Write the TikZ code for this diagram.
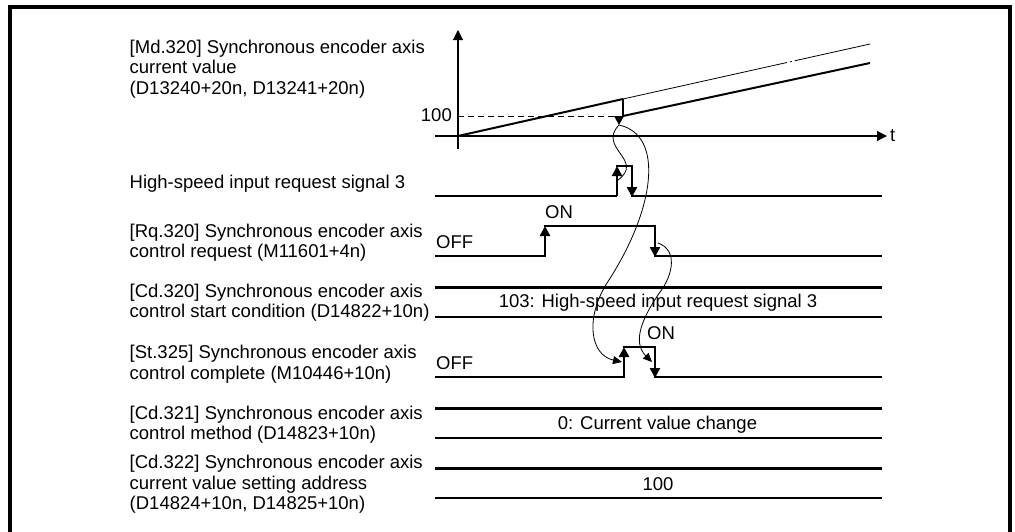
\documentclass[tikz,border=0pt]{standalone}
\usepackage{fontspec}
\setmainfont{Liberation Sans}
\usetikzlibrary{arrows.meta}
\begin{document}
\begin{tikzpicture}[x=1pt,y=-1pt,
  font=\fontsize{18.5}{20.6}\selectfont,
  lbl/.style={anchor=base west, inner sep=0pt, align=left},
  txt/.style={inner sep=0pt},
  sig/.style={line width=2.4pt},
  bus/.style={line width=2.4pt},
  axisline/.style={line width=1.1pt},
  valline/.style={line width=2pt},
  thinline/.style={line width=0.8pt},
  uparr/.style={-{Triangle[length=10pt,width=10pt]}},
  curvarr/.style={thinline,-{Triangle[length=9pt,width=8pt]}},
  frameline/.style={line width=4pt}]
\useasboundingbox (0,0) rectangle (1015,531);
% frame
\draw[frameline] (9.5,533) -- (9.5,7) -- (1010,7) -- (1010,533);

% labels (anchored at the baseline of their last line)
\node[lbl] (lmd) at (129.5,94.3) {[Md.320] Synchronous encoder axis\\current value\\(D13240+20n, D13241+20n)};
\node[lbl] (lhs) at (129.5,188.3) {High-speed input request signal 3};
\node[lbl] (lrq) at (129.5,257.9) {[Rq.320] Synchronous encoder axis\\control request (M11601+4n)};
\node[lbl] (lcd0) at (129.5,317.9) {[Cd.320] Synchronous encoder axis\\control start condition (D14822+10n)};
\node[lbl] (lst) at (129.5,379.3) {[St.325] Synchronous encoder axis\\control complete (M10446+10n)};
\node[lbl] (lcd1) at (129.5,439.6) {[Cd.321] Synchronous encoder axis\\control method (D14823+10n)};
\node[lbl] (lcd2) at (129.5,509.9) {[Cd.322] Synchronous encoder axis\\current value setting address\\(D14824+10n, D14825+10n)};

% ---- graph of current value
\coordinate (O) at (458,136);
\coordinate (ybot) at (458,149);
\coordinate (ytop) at (458,30);
\coordinate (xl) at (435,136);
\coordinate (xr) at (887,136);
\coordinate (P) at (623,99);
\coordinate (Q) at (623,116);
\coordinate (Y100) at (458,116);
\coordinate (Pend) at (870,44);
\coordinate (Qend) at (870,63);
\draw[axisline,uparr] (ybot) -- (ytop);
\draw[axisline,uparr] (xl) -- (xr);
\node[txt,anchor=base west] (tl) at (890,141.7) {t};
\node[txt,anchor=base east] (hl) at (452,121.7) {100};
\draw[thinline,dashed,dash pattern=on 6pt off 4pt] (Y100) -- (618,116);
\draw[valline] (O) -- (P);
\draw[thinline,dash pattern=on 168pt off 3pt on 2pt off 3pt] (P) -- (Pend);
\draw[valline] (P) -- (Q);
\fill (614,116) -- (624,116) -- (619,125) -- cycle;
\coordinate (Ptip) at (619,125);
\draw[valline] (Q) -- (Qend);

% ---- High-speed input request signal 3
\coordinate (h0) at (435,196);
\coordinate (h1) at (617,196);
\coordinate (h2) at (617,166);
\coordinate (h3) at (632,166);
\coordinate (h4) at (632,197);
\coordinate (h5) at (882,196);
\draw[sig] (h0) -- (h1);
\draw[sig,uparr] (h1) -- (h2);
\draw[sig] ([xshift=-1.2pt]h2) -- ([xshift=1.2pt]h3);
\draw[sig,uparr] (h3) -- (h4);
\draw[sig] ([xshift=-1.2pt]632,196) -- (h5);

% ---- Rq.320
\coordinate (r0) at (435,256);
\coordinate (r1) at (545,256);
\coordinate (r2) at (545,226);
\coordinate (r3) at (655,226);
\coordinate (r4) at (655,257);
\coordinate (r5) at (882,256);
\draw[sig] (r0) -- ([xshift=1.2pt]r1);
\draw[sig,uparr] (r1) -- (r2);
\draw[sig] ([xshift=-1.2pt]r2) -- ([xshift=1.2pt]r3);
\draw[sig,uparr] (r3) -- (r4);
\draw[sig] ([xshift=-1.2pt]655,256) -- (r5);
\node[txt,anchor=base west] (roff) at (436,248.3) {OFF};
\node[txt,anchor=base west] (ron) at (545,218.3) {ON};

% ---- Cd.320
\coordinate (c0a) at (435,287.3);
\coordinate (c0b) at (882,287.3);
\coordinate (c0c) at (435,316.7);
\coordinate (c0d) at (882,316.7);
\draw[bus] (c0a) -- (c0b);
\draw[bus] (c0c) -- (c0d);
\node[txt,anchor=base] (c0t) at (658,307.3) {103: High-speed input request signal 3};

% ---- St.325
\coordinate (s0) at (435,377);
\coordinate (s1) at (624,377);
\coordinate (s2) at (624,347);
\coordinate (s3) at (655,347);
\coordinate (s4) at (655,378);
\coordinate (s5) at (882,377);
\draw[sig] (s0) -- ([xshift=1.2pt]s1);
\draw[sig,uparr] (s1) -- (s2);
\draw[sig] ([xshift=-1.2pt]s2) -- ([xshift=1.2pt]s3);
\draw[sig,uparr] (s3) -- (s4);
\draw[sig] ([xshift=-1.2pt]655,377) -- (s5);
\node[txt,anchor=base west] (soff) at (436,369) {OFF};
\node[txt,anchor=base west] (son) at (647,339.3) {ON};

% ---- Cd.321
\coordinate (c1a) at (435,408.3);
\coordinate (c1b) at (882,408.3);
\coordinate (c1c) at (435,437.7);
\coordinate (c1d) at (882,437.7);
\draw[bus] (c1a) -- (c1b);
\draw[bus] (c1c) -- (c1d);
\node[txt,anchor=base] (c1t) at (657.5,429.3) {0: Current value change};

% ---- Cd.322
\coordinate (c2a) at (435,468.3);
\coordinate (c2b) at (882,468.3);
\coordinate (c2c) at (435,497.7);
\coordinate (c2d) at (882,497.7);
\draw[bus] (c2a) -- (c2b);
\draw[bus] (c2c) -- (c2d);
\node[txt,anchor=base] (c2t) at (658,490.7) {100};

% ---- causal curves
\coordinate (hsA) at (618,180);
\draw[thinline] (hsA) .. controls (645,160) and (597,148) .. (Ptip);
\coordinate (stA) at (622,362);
\draw[curvarr] (Ptip) .. controls (665,135) and (655,210) .. (607,283) .. controls (585,318) and (590,355) .. (stA);
\coordinate (rqA) at (658,243);
\coordinate (stB) at (652,362);
\draw[curvarr] (rqA) .. controls (678,250) and (673,275) .. (660,292) .. controls (642,318) and (632,342) .. (stB);
\end{tikzpicture}
\end{document}
